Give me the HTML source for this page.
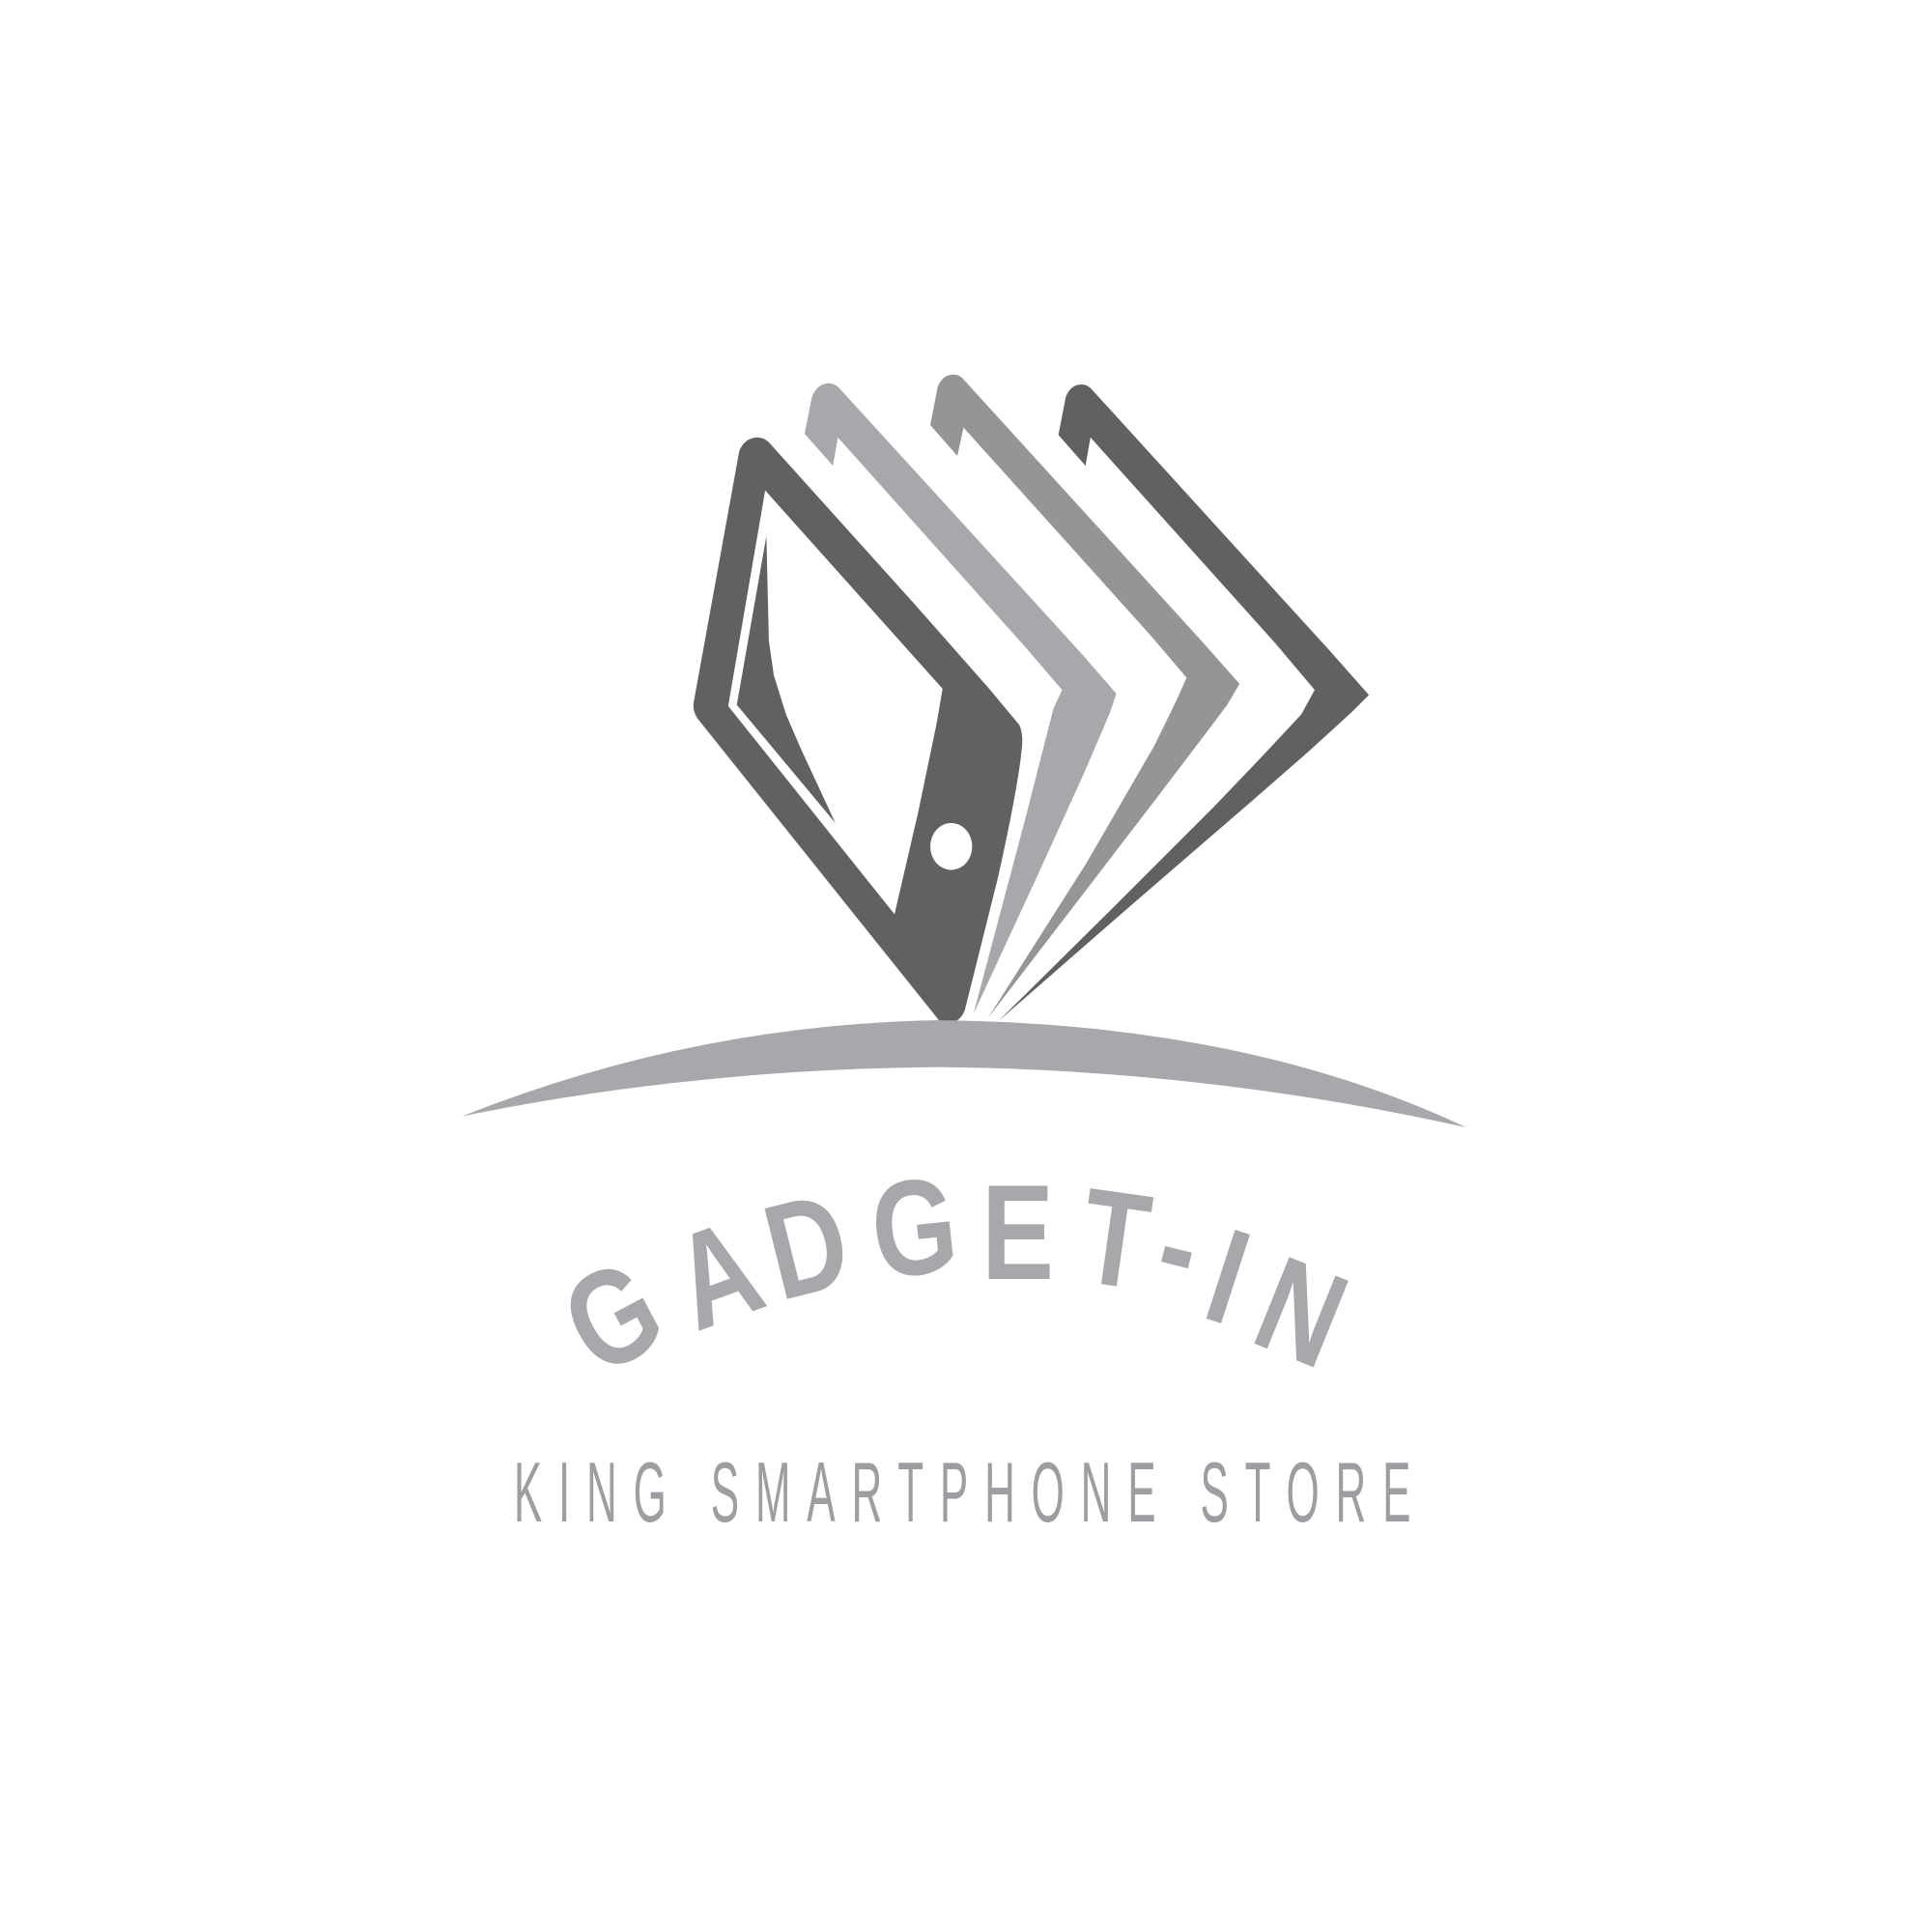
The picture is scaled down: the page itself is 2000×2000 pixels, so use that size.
<!DOCTYPE html>
<html><head><meta charset="utf-8"><style>
html,body{margin:0;padding:0;background:#fff;width:2000px;height:2000px;overflow:hidden}
svg{display:block}
</style></head><body>
<svg width="2000" height="2000" viewBox="0 0 1568 1568" xmlns="http://www.w3.org/2000/svg">
<rect width="1568" height="1568" fill="#fff"/>
<g>
<path fill="#616161" fill-rule="evenodd" d="M600,366 Q604,356 614,355 Q620,355 624,359 L742,490 L802,558 L827,588 Q831,595 829,610 Q826,640 810,712 L783,820 Q779,830 770,830 L762,828 L566,583 Q562,577 563,570 Z M621,398 L765,559 L760,588 L745,660 L726,742 L591,573 Z"/>
<path fill="#616161" d="M622,435 L624,520 L628,548 L638,580 L651,610 L665,640 L678,668 L598,572 Z"/>
<ellipse cx="772" cy="687" rx="17" ry="19" fill="#fff"/>
</g>
<path fill="#a7a8ab" d="M653,352 L659,322 Q663,312 672,311 Q678,311 683,317 L850,500 L880,533 L906,563 L901,578 L880,627 L840,715 L790,823 L832,665 L855,575 L862,560 L832,525 L680,355 L676,378 Z"/>
<path fill="#959595" d="M755,345 L761,314 Q765,304 774,304 Q779,304 783,309 L975,520 L1006,555 L996,572 L975,600 L940,646 L802,826 L882,700 L937,605 L955,568 L963,550 L935,517 L782,347 L777,370 Z"/>
<path fill="#616161" d="M859,353 L865,322 Q869,312 878,312 Q883,312 887,317 L1080,529 L1111,564 L1097,578 L1062,610 L1015,651 L920,733 L810,829 L900,740 L985,655 L1027,611 L1056,580 L1067,560 L1035,522 L885,355 L881,378 Z"/>
<path fill="#a7a8ab" d="M375,906 Q560,832 760,828 Q1010,830 1190,915 Q980,868 760,866 Q560,868 375,906 Z"/>
<g fill="#a7a8ab" font-family="Liberation Sans, sans-serif" font-weight="bold" font-size="110" text-anchor="middle">
<text transform="translate(515,1102) rotate(-28) scale(0.8,1)">G</text>
<text transform="translate(595,1070) rotate(-20) scale(0.8,1)">A</text>
<text transform="translate(664,1048) rotate(-14) scale(0.8,1)">D</text>
<text transform="translate(746,1034) rotate(-6) scale(0.8,1)">G</text>
<text transform="translate(826,1038) rotate(0) scale(0.8,1)">E</text>
<text transform="translate(900,1043) rotate(8) scale(0.8,1)">T</text>
<text transform="translate(948,1048) rotate(14) scale(0.8,1)">-</text>
<text transform="translate(985,1072) rotate(18) scale(0.8,1)">I</text>
<text transform="translate(1042,1100) rotate(22) scale(0.8,1)">N</text>
</g>
<g transform="scale(0.5,1)">
<text x="834" y="1235" textLength="1456" lengthAdjust="spacing" fill="#9d9ea2" font-family="Liberation Sans, sans-serif" font-size="69">KING SMARTPHONE STORE</text>
</g>
</svg>
</body></html>
